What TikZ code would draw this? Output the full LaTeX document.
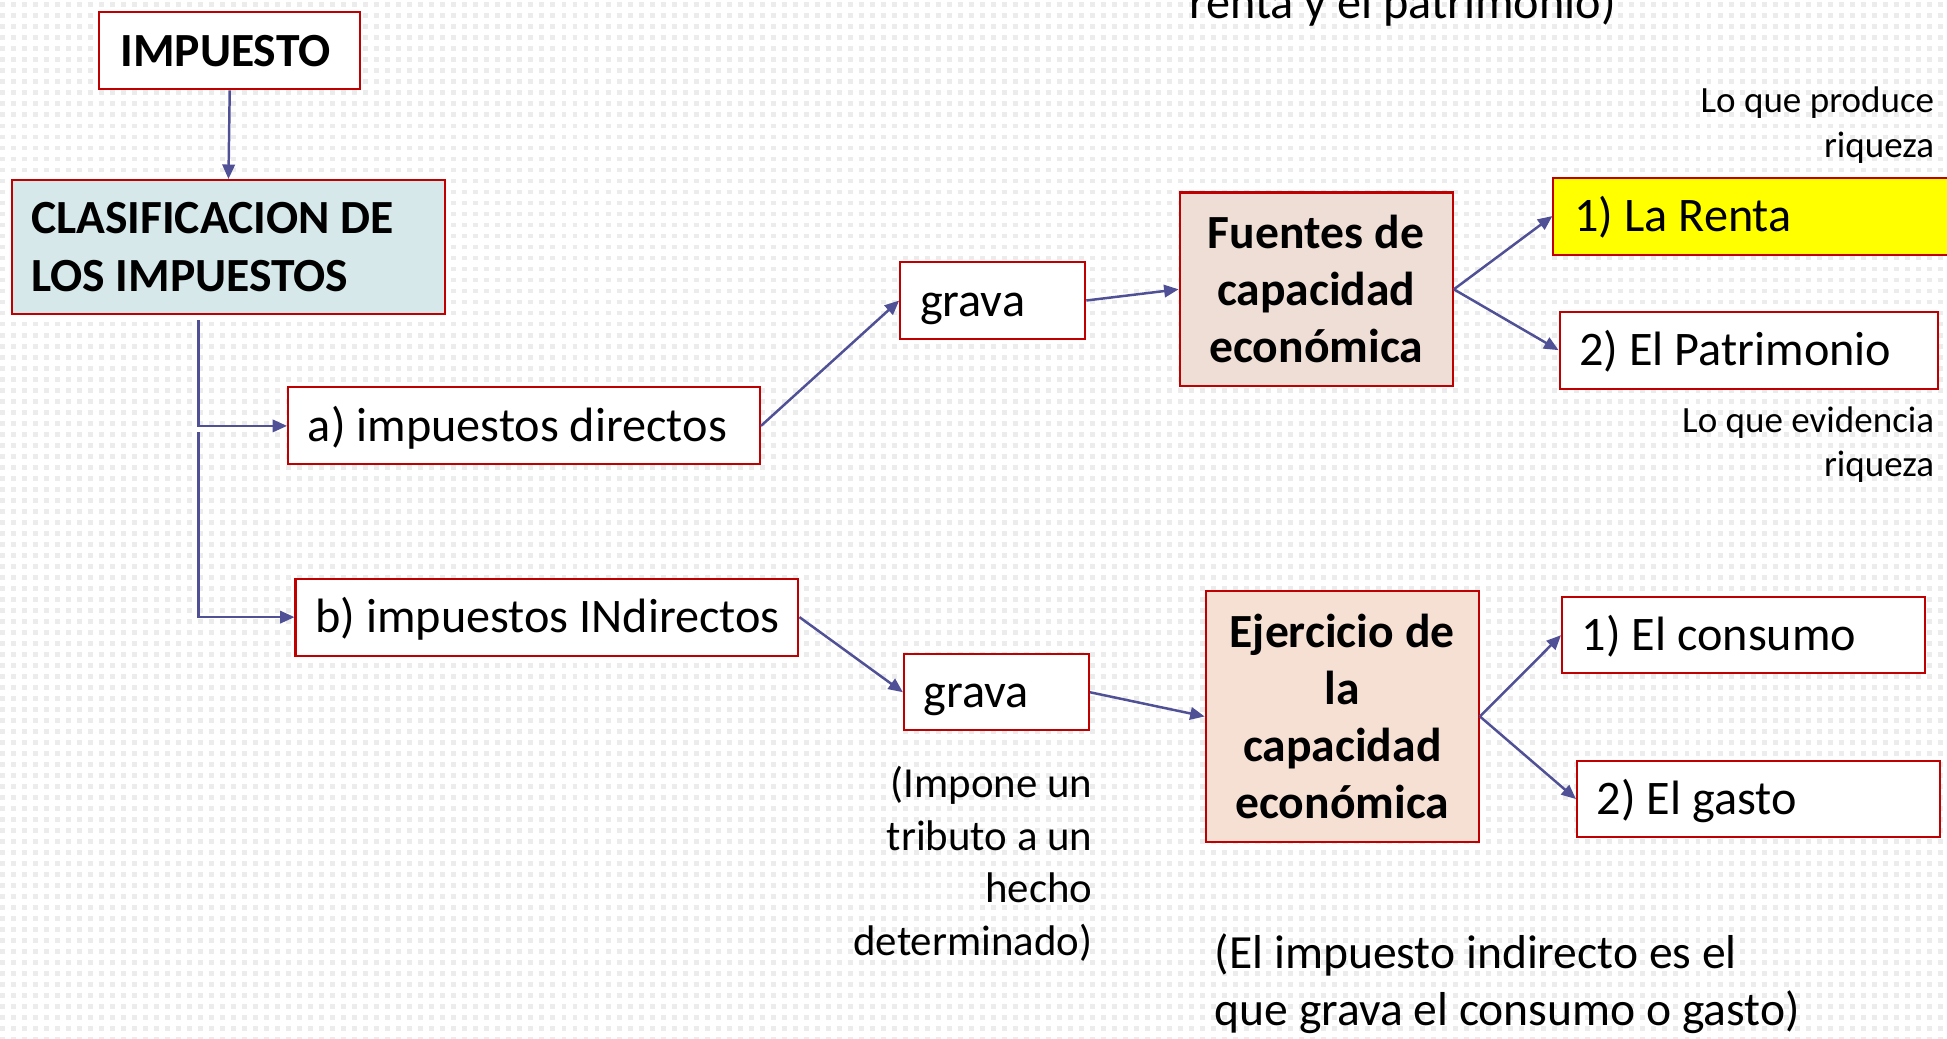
\documentclass[tikz,border=0pt]{standalone}
\usepackage{fontspec}
\setmainfont{Carlito}
\usetikzlibrary{arrows.meta}
\definecolor{boxred}{RGB}{192,0,0}
\definecolor{arrowc}{RGB}{80,80,150}
\definecolor{clasfill}{RGB}{214,232,234}
\definecolor{fuefill}{RGB}{238,222,214}
\definecolor{ejefill}{RGB}{246,223,211}
\definecolor{dotc}{RGB}{236,236,236}
\definecolor{rentafill}{RGB}{255,255,0}
\newcommand{\nsp}{\spaceskip=0pt\xspaceskip=0pt\relax}
\newcommand{\lb}[2]{\makebox[#1][l]{#2}}
\begin{document}
\begin{tikzpicture}[x=0.6pt,y=-0.6pt,
  bigfont/.style={font=\fontsize{23.3}{28}\selectfont},
  box/.style={draw=boxred, line width=1pt, fill=white, minimum height=37.2pt, inner ysep=0pt, bigfont},
  lbox/.style={box, inner xsep=9.6pt, text height=20pt, text depth=4.8pt},
  cbox/.style={box, align=center, inner xsep=6pt, text width=120pt, font=\fontsize{23}{27.6}\selectfont\bfseries},
  note/.style={font=\fontsize{17.9}{21.6}\selectfont, align=right, inner sep=0pt},
  conn/.style={draw=arrowc, line width=1.2pt, -{Triangle[length=7pt,width=6pt]}}
]
\useasboundingbox (0,0) rectangle (1568,836);
\fill[white] (0,0) rectangle (1568,836);
\foreach \r in {0,...,94} {
  \draw[dotc, line width=2.4pt, dash pattern=on 2.4pt off 2.92pt] (0,{4+\r*8.86}) -- (1568,{4+\r*8.86});
}

% top cut text
\node[anchor=base west, bigfont, inner sep=0pt] (toptxt) at (958,14.5) {renta y el patrimonio)};

% boxes
\node[lbox, inner xsep=10.2pt, font=\fontsize{23}{28}\selectfont\bfseries] (imp) at (185,41) {\lb{105.6pt}{IMPUESTO}};
\node[box, align=left, text width=190.8pt, inner xsep=9pt, fill=clasfill, minimum height=64.8pt, font=\fontsize{23}{28.2}\selectfont\bfseries] (clas) at (184,199) {\nsp CLASIFICACION DE\\LOS IMPUESTOS};
\node[lbox] (dir) at (422,343) {\lb{208.8pt}{a) impuestos directos}};
\node[lbox] (ind) at (440.5,497) {\lb{223.8pt}{b) impuestos INdirectos}};
\node[lbox] (grava1) at (799.5,242) {\lb{70.2pt}{grava}};
\node[lbox, minimum height=36.6pt] (grava2) at (802.5,557.5) {\lb{70.2pt}{grava}};
\node[cbox, fill=fuefill, minimum height=93.6pt] (fuentes) at (1060,233) {\nsp Fuentes de\\capacidad\\económica};
\node[cbox, fill=ejefill, minimum height=121.2pt] (ejer) at (1081,577) {\nsp Ejercicio de\\la\\capacidad\\económica};
\node[lbox, inner xsep=10.2pt, fill=rentafill] (renta) at (1425.5,174) {\lb{189pt}{1) La Renta}};
\node[lbox] (patri) at (1408.5,282) {\lb{163.8pt}{2) El Patrimonio}};
\node[lbox, minimum height=36.6pt] (consumo) at (1404,511.5) {\lb{156pt}{1) El consumo}};
\node[lbox, minimum height=36.6pt] (gasto) at (1416,643.5) {\lb{156pt}{2) El gasto}};

% notes
\node[note, anchor=east] (prod) at (1558,101) {\nsp Lo que produce\\riqueza};
\node[note, anchor=east] (evid) at (1558,358) {\nsp Lo que evidencia\\riqueza};
\node[note, anchor=east, font=\fontsize{20.7}{25.4}\selectfont] (impone) at (880,695.5) {\nsp (Impone un\\tributo a un\\hecho\\determinado)};
\node[anchor=west, align=left, inner sep=0pt, font=\fontsize{23}{27.6}\selectfont] (elimp) at (978,792) {\nsp (El impuesto indirecto es el\\que grava el consumo o gasto)};

% connectors
\coordinate (c1) at (160,258);
\coordinate (c2) at (160,348);
\draw[conn] (imp.south) -- (clas.north);
\draw[conn] (c1) |- (dir.west);
\draw[conn] (c2) |- (ind.west);
\draw[conn] (dir.east) -- (grava1.west);
\draw[conn] (grava1.east) -- (fuentes.west);
\draw[conn] (fuentes.east) -- (renta.west);
\draw[conn] (fuentes.east) -- (patri.west);
\draw[conn] (ind.east) -- (grava2.west);
\draw[conn] (grava2.east) -- (ejer.west);
\draw[conn] (ejer.east) -- (consumo.west);
\draw[conn] (ejer.east) -- (gasto.west);
\end{tikzpicture}
\end{document}
